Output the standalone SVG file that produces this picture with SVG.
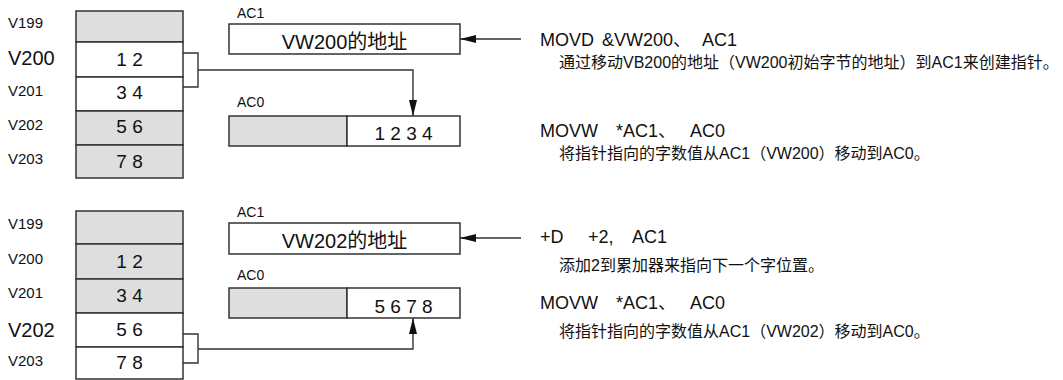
<svg xmlns="http://www.w3.org/2000/svg" width="1063" height="380" viewBox="0 0 1063 380">
<style>
text{font-family:"Liberation Sans","Noto Sans CJK SC",sans-serif;fill:#111}
.lbl{font-size:15px}
.big{font-size:20px}
.val{font-size:19px;text-anchor:middle}
.reg{font-size:14px}
.box{font-size:20px;text-anchor:middle}
.cmd{font-size:18px}
.desc{font-size:16px}
.w{fill:#fff;stroke:#333;stroke-width:1.5}
.g{fill:#dedede;stroke:#333;stroke-width:1.5}
.ln{fill:none;stroke:#333;stroke-width:1.4}
</style>
<defs>
<marker id="ah" viewBox="0 0 16 8" refX="16" refY="4" markerWidth="16" markerHeight="8" markerUnits="userSpaceOnUse" orient="auto">
<path d="M0,0 L16,4 L0,8 Z" fill="#111"/>
</marker>
</defs>

<g id="mem-top">
<rect class="g" x="76" y="11" width="107" height="31"/>
<rect class="w" x="76" y="42" width="107" height="35"/>
<rect class="w" x="76" y="77" width="107" height="34"/>
<rect class="g" x="76" y="111" width="107" height="34"/>
<rect class="g" x="76" y="145" width="107" height="33"/>
<text class="lbl" x="8" y="28">V199</text>
<text class="big" x="8" y="65">V200</text>
<text class="lbl" x="8" y="96">V201</text>
<text class="lbl" x="8" y="130">V202</text>
<text class="lbl" x="8" y="164">V203</text>
<text class="val" x="129.5" y="66">1 2</text>
<text class="val" x="129.5" y="99">3 4</text>
<text class="val" x="129.5" y="133">5 6</text>
<text class="val" x="129.5" y="168">7 8</text>
</g>

<g id="ac1-top">
<text class="reg" x="237" y="18">AC1</text>
<rect class="w" x="229" y="24" width="231" height="30"/>
<text class="box" x="344.5" y="49">VW200的地址</text>
</g>
<g id="ac0-top">
<text class="reg" x="237" y="107">AC0</text>
<rect class="g" x="229" y="116" width="118" height="30"/>
<rect class="w" x="347" y="116" width="113" height="30"/>
<text class="val" x="403.5" y="140">1 2 3 4</text>
</g>

<g id="mem-bottom">
<rect class="g" x="76" y="211" width="107" height="33"/>
<rect class="g" x="76" y="244" width="107" height="35"/>
<rect class="g" x="76" y="279" width="107" height="34"/>
<rect class="w" x="76" y="313" width="107" height="34"/>
<rect class="w" x="76" y="347" width="107" height="32"/>
<text class="lbl" x="8" y="229">V199</text>
<text class="lbl" x="8" y="264">V200</text>
<text class="lbl" x="8" y="298">V201</text>
<text class="big" x="8" y="337">V202</text>
<text class="lbl" x="8" y="366">V203</text>
<text class="val" x="129.5" y="268">1 2</text>
<text class="val" x="129.5" y="302">3 4</text>
<text class="val" x="129.5" y="336">5 6</text>
<text class="val" x="129.5" y="369">7 8</text>
</g>

<g id="ac1-bottom">
<text class="reg" x="237" y="217">AC1</text>
<rect class="w" x="229" y="223" width="231" height="31"/>
<text class="box" x="344.5" y="248">VW202的地址</text>
</g>
<g id="ac0-bottom">
<text class="reg" x="237" y="280">AC0</text>
<rect class="g" x="229" y="288" width="118" height="30"/>
<rect class="w" x="347" y="288" width="113" height="30"/>
<text class="val" x="403.5" y="313">5 6 7 8</text>
</g>

<g id="connectors">
<path class="ln" d="M183,53 H198 V87 H183"/>
<path class="ln" d="M198,70 H413 V116" marker-end="url(#ah)"/>
<path class="ln" d="M521,39 H460" marker-end="url(#ah)"/>
<path class="ln" d="M183,334 H198 V363 H183"/>
<path class="ln" d="M198,349 H413 V318" marker-end="url(#ah)"/>
<path class="ln" d="M521,238 H460" marker-end="url(#ah)"/>
</g>

<g id="notes">
<text class="cmd" x="540" y="46">MOVD<tspan x="602">&amp;VW200、</tspan><tspan x="702">AC1</tspan></text>
<text class="desc" x="559" y="68">通过移动VB200的地址（VW200初始字节的地址）到AC1来创建指针。</text>
<text class="cmd" x="540" y="137">MOVW<tspan x="616">*AC1、</tspan><tspan x="690">AC0</tspan></text>
<text class="desc" x="559" y="159">将指针指向的字数值从AC1（VW200）移动到AC0。</text>
<text class="cmd" x="540" y="243">+D<tspan x="588">+2,</tspan><tspan x="632">AC1</tspan></text>
<text class="desc" x="559" y="271">添加2到累加器来指向下一个字位置。</text>
<text class="cmd" x="540" y="309">MOVW<tspan x="616">*AC1、</tspan><tspan x="690">AC0</tspan></text>
<text class="desc" x="559" y="337">将指针指向的字数值从AC1（VW202）移动到AC0。</text>
</g>
</svg>
